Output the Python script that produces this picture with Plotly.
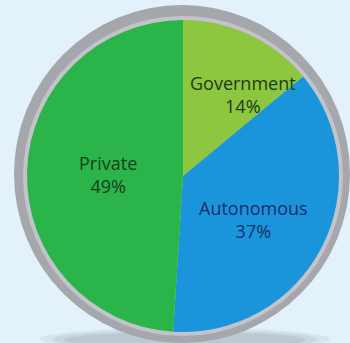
import math
import plotly.graph_objects as go

# Share of institutions by ownership
labels = ["Government", "Autonomous", "Private"]
shares = [14, 37, 49]
slice_colors = ["#8dc63f", "#1a95dc", "#2bb44a"]
text_colors = ["#1e3a14", "#1a2d6b", "#173f1c"]
# label placement: (fraction of radius, angular nudge in degrees)
label_place = [(0.65, 11.0), (0.53, 4.5), (0.48, -1.0)]

W, H = 350, 343
BG = "#e3f1fa"

# pie geometry in pixels
cx, cy, r = 183, 176, 156

def px_x(v):
    return v / W

def px_y(v):
    return 1 - v / H

fig = go.Figure(
    go.Pie(
        labels=labels,
        values=shares,
        sort=False,
        direction="clockwise",
        rotation=0,
        marker=dict(colors=slice_colors, line=dict(width=0)),
        textinfo="none",
        hoverinfo="skip",
        showlegend=False,
        domain=dict(
            x=[px_x(cx - r), px_x(cx + r)],
            y=[px_y(cy + r), px_y(cy - r)],
        ),
    )
)

# labels at each slice's mid-angle (clockwise from 12 o'clock)
total = sum(shares)
start = 0.0
for lab, val, col, (frac, nudge) in zip(labels, shares, text_colors, label_place):
    mid = (start + val / 2) / total * 360 + nudge
    start += val
    a = math.radians(mid)
    tx = cx + frac * r * math.sin(a)
    ty = cy - frac * r * math.cos(a)
    fig.add_annotation(
        x=px_x(tx), y=px_y(ty), xref="paper", yref="paper",
        text=f"{lab}<br>{round(val / total * 100)}%",
        showarrow=False, xanchor="center", yanchor="middle",
        font=dict(family="Open Sans", size=18, color=col),
    )

# soft shadow beneath the plate
for k, op in [(0, 0.10), (1, 0.12), (2, 0.14)]:
    fig.add_shape(
        type="circle", xref="paper", yref="paper", layer="below",
        x0=px_x(40 + 12 * k), x1=px_x(330 - 12 * k),
        y0=px_y(350 - k), y1=px_y(328 + 2 * k),
        fillcolor=f"rgba(110,120,130,{op})", line=dict(width=0),
    )
# grey rim
rcx, rcy = 182, 174
fig.add_shape(
    type="circle", xref="paper", yref="paper", layer="below",
    x0=px_x(rcx - 168), x1=px_x(rcx + 168),
    y0=px_y(rcy + 169), y1=px_y(rcy - 169),
    fillcolor="#a6a7ac", line=dict(width=0),
)
fig.add_shape(
    type="circle", xref="paper", yref="paper", layer="below",
    x0=px_x(cx - r - 4), x1=px_x(cx + r + 4),
    y0=px_y(cy + r + 4), y1=px_y(cy - r - 4),
    fillcolor="#c3c4c9", line=dict(width=0),
)

fig.update_layout(
    width=W, height=H,
    margin=dict(l=0, r=0, t=0, b=0),
    paper_bgcolor=BG, plot_bgcolor=BG,
    font=dict(family="Open Sans"),
)

fig.write_html("out.html")
